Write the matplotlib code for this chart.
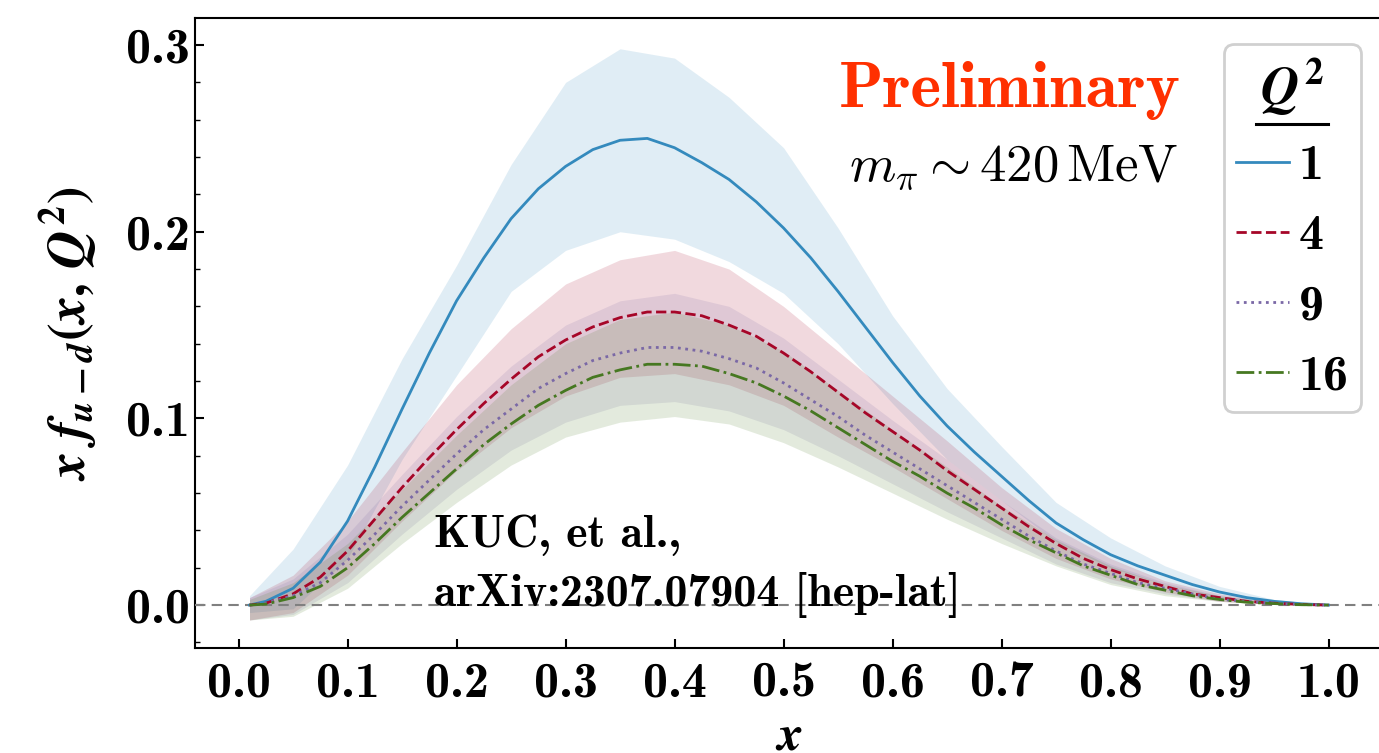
import matplotlib
matplotlib.use("Agg")
import matplotlib.pyplot as plt
from matplotlib.ticker import MultipleLocator, AutoMinorLocator
from matplotlib.lines import Line2D

plt.rcParams['mathtext.fontset'] = 'cm'
plt.rcParams['mathtext.it'] = 'STIXGeneral:italic:bold'
plt.rcParams['mathtext.rm'] = 'STIXGeneral:bold'
plt.rcParams['mathtext.bf'] = 'STIXGeneral:bold'

## x grid of the central curves
x_line = [0.01, 0.025, 0.05, 0.075, 0.1, 0.125, 0.15, 0.175, 0.2, 0.225, 0.25,
          0.275, 0.3, 0.325, 0.35, 0.375, 0.4, 0.425, 0.45, 0.475, 0.5,
          0.525, 0.55, 0.575, 0.6, 0.625, 0.65, 0.675, 0.7, 0.725, 0.75,
          0.775, 0.8, 0.825, 0.85, 0.875, 0.9, 0.925, 0.95, 0.975, 1.0]

q2_1 = [0.000, 0.002, 0.009, 0.023, 0.045, 0.074, 0.105, 0.135, 0.163, 0.186, 0.207,
        0.223, 0.235, 0.244, 0.249, 0.250, 0.245, 0.237, 0.228, 0.216, 0.202,
        0.186, 0.168, 0.149, 0.130, 0.112, 0.096, 0.082, 0.069, 0.056, 0.044,
        0.035, 0.027, 0.021, 0.016, 0.011, 0.007, 0.004, 0.002, 0.0007, 0.0]
q2_4 = [0.000, 0.001, 0.006, 0.015, 0.029, 0.046, 0.063, 0.079, 0.094, 0.108, 0.121,
        0.133, 0.142, 0.149, 0.154, 0.157, 0.157, 0.155, 0.150, 0.144, 0.135,
        0.125, 0.114, 0.103, 0.093, 0.083, 0.072, 0.062, 0.052, 0.042, 0.033,
        0.025, 0.019, 0.014, 0.010, 0.006, 0.004, 0.002, 0.001, 0.0003, 0.0]
q2_9 = [0.000, 0.001, 0.005, 0.012, 0.024, 0.038, 0.053, 0.067, 0.081, 0.094, 0.105,
        0.116, 0.124, 0.131, 0.135, 0.138, 0.138, 0.136, 0.132, 0.127, 0.119,
        0.110, 0.101, 0.091, 0.082, 0.073, 0.064, 0.055, 0.046, 0.037, 0.029,
        0.022, 0.017, 0.012, 0.009, 0.006, 0.003, 0.002, 0.001, 0.0003, 0.0]
q2_16 = [0.000, 0.0005, 0.004, 0.010, 0.020, 0.033, 0.047, 0.060, 0.073, 0.086, 0.097,
         0.107, 0.115, 0.122, 0.126, 0.129, 0.129, 0.128, 0.124, 0.119, 0.112,
         0.104, 0.095, 0.086, 0.077, 0.069, 0.060, 0.052, 0.043, 0.035, 0.028,
         0.021, 0.016, 0.011, 0.008, 0.005, 0.003, 0.0015, 0.0008, 0.0002, 0.0]

## x grid of the error bands
x_band = [0.01, 0.05, 0.1, 0.15, 0.2, 0.25, 0.3, 0.35, 0.4, 0.45, 0.5,
          0.55, 0.6, 0.65, 0.7, 0.75, 0.8, 0.85, 0.9, 0.95, 1.0]

lo_1 = [-0.004, -0.002, 0.025, 0.078, 0.123, 0.168, 0.190, 0.200, 0.196, 0.184, 0.167,
        0.140, 0.108, 0.078, 0.056, 0.034, 0.020, 0.011, 0.004, 0.001, 0.0]
hi_1 = [0.005, 0.030, 0.075, 0.132, 0.182, 0.236, 0.280, 0.298, 0.293, 0.272, 0.245,
        0.202, 0.155, 0.116, 0.085, 0.055, 0.036, 0.021, 0.010, 0.003, 0.0]
lo_4 = [-0.008, -0.004, 0.016, 0.045, 0.072, 0.095, 0.112, 0.122, 0.124, 0.118, 0.107,
        0.090, 0.074, 0.057, 0.040, 0.025, 0.014, 0.007, 0.002, 0.0005, 0.0]
hi_4 = [0.004, 0.016, 0.045, 0.082, 0.118, 0.148, 0.172, 0.185, 0.190, 0.180, 0.160,
        0.136, 0.112, 0.088, 0.063, 0.041, 0.025, 0.013, 0.006, 0.0015, 0.0]
lo_9 = [-0.008, -0.005, 0.012, 0.038, 0.062, 0.083, 0.098, 0.107, 0.109, 0.104, 0.094,
        0.080, 0.065, 0.050, 0.036, 0.022, 0.012, 0.006, 0.002, 0.0005, 0.0]
hi_9 = [0.004, 0.014, 0.038, 0.070, 0.101, 0.128, 0.150, 0.163, 0.167, 0.160, 0.143,
        0.121, 0.099, 0.078, 0.056, 0.036, 0.022, 0.012, 0.005, 0.0015, 0.0]
lo_16 = [-0.008, -0.006, 0.009, 0.033, 0.055, 0.075, 0.090, 0.098, 0.101, 0.097, 0.087,
         0.074, 0.060, 0.046, 0.033, 0.021, 0.011, 0.005, 0.002, 0.0005, 0.0]
hi_16 = [0.003, 0.012, 0.033, 0.062, 0.091, 0.118, 0.140, 0.153, 0.157, 0.150, 0.136,
         0.115, 0.094, 0.074, 0.053, 0.035, 0.021, 0.011, 0.005, 0.0015, 0.0]

labels = ['1', '4', '9', '16']
colors = ['#348ABD', '#A60628', '#7A68A6', '#467821']
styles = ['-', '--', ':', '-.']

centers = [q2_1, q2_4, q2_9, q2_16]
lows = [lo_1, lo_4, lo_9, lo_16]
highs = [hi_1, hi_4, hi_9, hi_16]

fig = plt.figure(figsize=(13.79, 7.53), dpi=100)
ax = fig.add_axes([195/1379, 105/753, 1188/1379, 630/753])

for lo, hi, c in zip(lows, highs, colors):
    ax.fill_between(x_band, lo, hi, color=c, alpha=0.15, lw=0)

ax.axhline(0, color='#808080', lw=1.5, dashes=(5, 3), zorder=3)

handles = []
for y, c, s, lab in zip(centers, colors, styles, labels):
    h, = ax.plot(x_line, y, color=c, ls=s, lw=2, label=lab, zorder=4)
    handles.append(h)

ax.set_xlim(-0.04, 1.05)
ax.set_ylim(-0.023, 0.3145)
ax.xaxis.set_major_locator(MultipleLocator(0.1))
ax.yaxis.set_major_locator(MultipleLocator(0.1))
ax.yaxis.set_minor_locator(AutoMinorLocator(5))
ax.tick_params(which='both', direction='in', top=False, right=False,
               labelsize=36, labelfontfamily='cmb10')
ax.tick_params(which='major', length=6.5, width=1.5)
ax.tick_params(which='minor', length=3.6, width=1.0)
ax.tick_params(axis='x', pad=10)
for sp in ax.spines.values():
    sp.set_linewidth(1.5)
ax.spines['right'].set_visible(False)

ax.set_xlabel(r'$x$', fontsize=36, math_fontfamily='custom')
ax.xaxis.set_label_coords(0.5, -0.1)
ax.set_ylabel(r'$x\ f_{u-d}(x,\,Q^2)$', fontsize=38, math_fontfamily='custom')
ax.yaxis.set_label_coords(-0.08, 0.5)

ax.text(0.864, 0.267, 'Preliminary', color='#FF3000', fontsize=47,
        fontfamily='cmb10', ha='right', va='baseline')
ax.text(0.862, 0.2266, r'$m_\pi \sim 420\,\mathrm{MeV}$', fontsize=38,
        math_fontfamily='cm', ha='right', va='baseline')
ax.text(0.179, 0.031, 'KUC, et al.,', fontsize=33, fontfamily='cmb10',
        ha='left', va='baseline')
ax.text(0.179, -0.0005, 'arXiv:2307.07904 [hep-lat]', fontsize=33,
        fontfamily='cmb10', ha='left', va='baseline')

leg = ax.legend(handles=handles, title=r'$Q^2$', loc='upper right',
                bbox_to_anchor=(0.9815, 0.9587), borderaxespad=0,
                prop={'family': 'cmb10', 'size': 36}, title_fontsize=38,
                handlelength=1.05, handletextpad=0.2, labelspacing=0.5,
                borderpad=0.25, fancybox=True, framealpha=1)
leg.get_title().set_math_fontfamily('custom')
leg.get_frame().set_edgecolor('#d0d0d0')
leg.get_frame().set_linewidth(2)

# underline the legend title
fig.canvas.draw()
bb = leg.get_title().get_window_extent()
inv = fig.transFigure.inverted()
(x0, y0), (x1, _) = inv.transform([(bb.x0 - 4, bb.y0 - 5), (bb.x1 + 4, bb.y0 - 5)])
fig.add_artist(Line2D([x0, x1], [y0, y0], color='black', lw=2.2,
                      transform=fig.transFigure))

fig.savefig('out.png', dpi=100)
